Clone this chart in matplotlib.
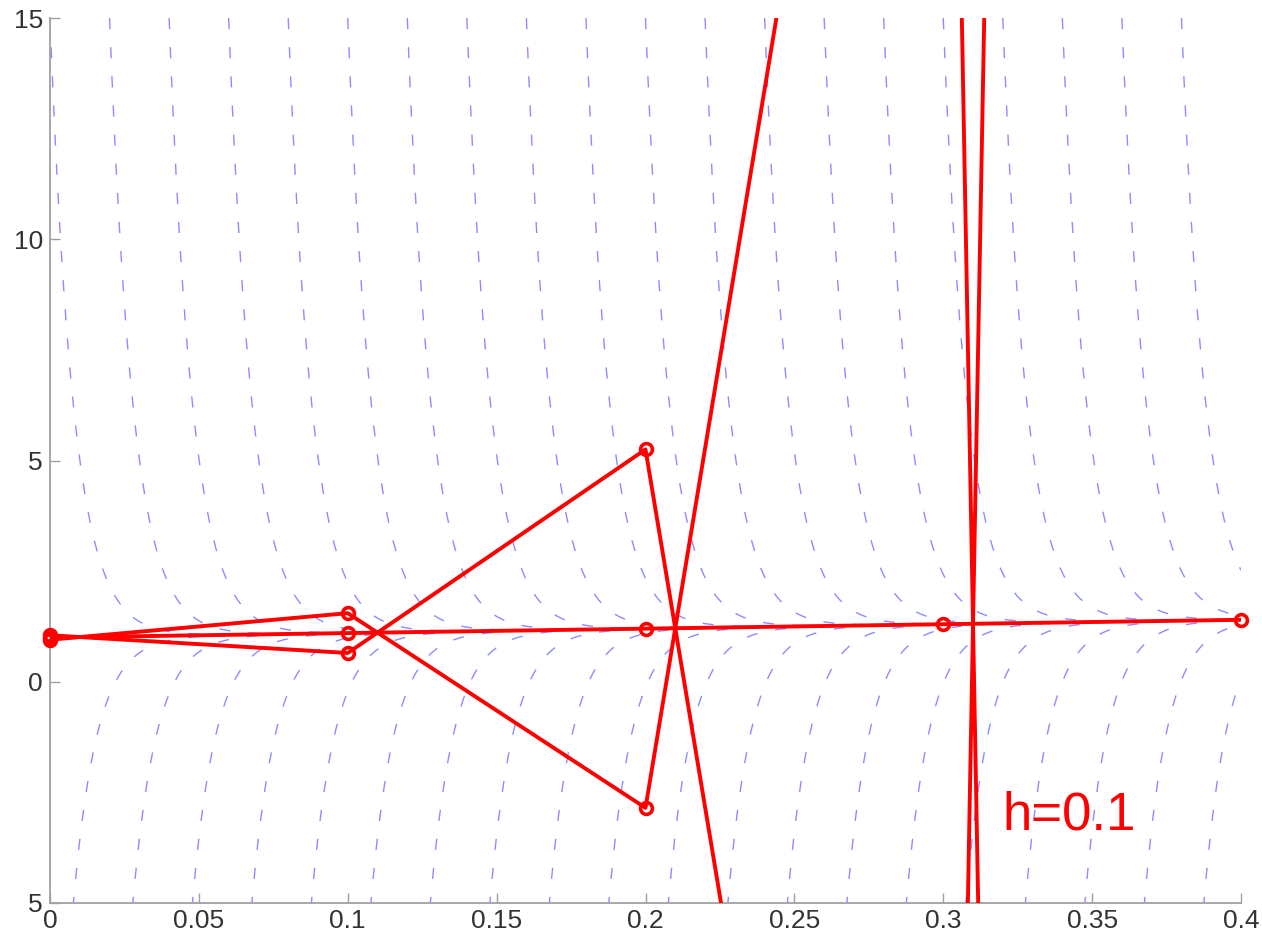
import matplotlib.pyplot as plt
import numpy as np

plt.rcParams['font.family'] = ['Liberation Sans', 'DejaVu Sans']

# Euler steps, h = 0.1 (off-chart ones estimated)
t_steps = [0, 0.1, 0.2, 0.3, 0.4]
y_mid = [1.0, 1.1, 1.2, 1.3, 1.4]
y_up = [1.05, 0.65, 5.25, -35.15, 329.45]
y_down = [0.95, 1.55, -2.85, 37.75, -326.65]

# blue solution curves of the stiff field: start times and start heights
lam = 125
t_top = [0, 0.02, 0.04, 0.06, 0.08, 0.1, 0.12, 0.14, 0.16, 0.18,
         0.2, 0.22, 0.24, 0.26, 0.28, 0.3, 0.32, 0.34, 0.36, 0.38]
t_bot = t_top
y_top = 15
y_bot = -15

xticks = [0, 0.05, 0.1, 0.15, 0.2, 0.25, 0.3, 0.35, 0.4]
xlabels = ['0', '0.05', '0.1', '0.15', '0.2', '0.25', '0.3', '0.35', '0.4']
yticks = [-5, 0, 5, 10, 15]
ylabels = ['5', '0', '5', '10', '15']

fig = plt.figure(figsize=(12.62, 9.36), dpi=100)
ax = fig.add_axes([50 / 1262, 33 / 936, 1191 / 1262, 885 / 936])

# direction field curves
for starts, y0 in [(t_top, y_top), (t_bot, y_bot)]:
    for t0 in starts:
        t = t0 + np.concatenate([[0], np.geomspace(1e-5, 0.4 - t0, 600)])
        y = 1 + t + (y0 - 1 - t0) * np.exp(-lam * (t - t0))
        ax.plot(t, y, color='#8c8cff', lw=1.0, linestyle=(0, (8, 13)),
                zorder=1)

# Euler polygons
for ys in [y_mid, y_up, y_down]:
    ax.plot(t_steps, ys, color='red', lw=2.8, zorder=3)
    pts = [(t, y) for t, y in zip(t_steps, ys) if -5 <= y <= 15]
    ax.plot([p[0] for p in pts], [p[1] for p in pts], 'o', color='red',
            mfc='none', ms=8.5, mew=2.6, clip_on=False, zorder=4)

ax.text(0.32, -3.35, 'h=0.1', color='red', fontsize=38)

ax.set_xlim(0, 0.4)
ax.set_ylim(-5, 15)
ax.set_xticks(xticks)
ax.set_xticklabels(xlabels)
ax.set_yticks(yticks)
ax.set_yticklabels(ylabels)
ax.spines['top'].set_visible(False)
ax.spines['right'].set_visible(False)
for s in ['left', 'bottom']:
    ax.spines[s].set_color('#a0a0a0')
    ax.spines[s].set_linewidth(1.3)
ax.tick_params(direction='in', length=7, color='#a0a0a0', width=1,
               labelsize=19, labelcolor='#333333')
ax.tick_params(axis='x', pad=4)
ax.tick_params(axis='y', pad=5)

fig.savefig('out.png', dpi=100)
